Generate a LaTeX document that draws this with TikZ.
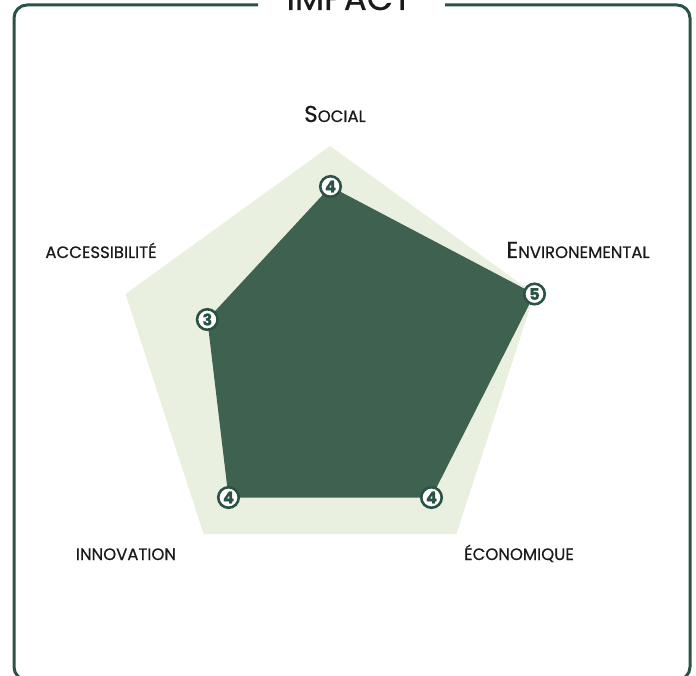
\documentclass[tikz,border=0pt]{standalone}
\usepackage{fontspec}
\setmainfont{Poppins}[FakeBold=0.6]
\newfontfamily\markfont{Poppins}[FakeBold=1.2]
\definecolor{framegreen}{HTML}{2B5345}
\definecolor{darkfill}{HTML}{3F6150}
\definecolor{lightfill}{HTML}{E9F0DF}
\definecolor{textdark}{HTML}{1A1A1A}
\begin{document}
\begin{tikzpicture}[x=1pt,y=-1pt,
  marker/.style={circle,draw=framegreen,line width=2.6pt,fill=white,inner sep=0pt,minimum size=20.5pt,
    font=\fontsize{16}{16}\markfont\bfseries,text=framegreen},
  axislabel/.style={anchor=base,text=textdark,inner sep=0pt,font=\fontsize{16.5}{16.5}\selectfont}]
\useasboundingbox (0,0) rectangle (696,676);
\clip (0,0) rectangle (696,676);
% outer pentagon
\coordinate (o1) at (330,146);
\coordinate (o2) at (534.5,294);
\coordinate (o3) at (456.4,534);
\coordinate (o4) at (203.6,534);
\coordinate (o5) at (125.5,294);
\fill[lightfill] (o1) -- (o2) -- (o3) -- (o4) -- (o5) -- cycle;
% data points
\coordinate (d1) at (330.5,186.5);
\coordinate (d2) at (534.5,294);
\coordinate (d3) at (431.5,497.5);
\coordinate (d4) at (228.5,497.5);
\coordinate (d5) at (207.3,319.5);
\fill[darkfill] (d1) -- (d2) -- (d3) -- (d4) -- (d5) -- cycle;
\node[marker] (m1) at (d1) {4};
\node[marker] (m2) at (d2) {5};
\node[marker] (m3) at (d3) {4};
\node[marker] (m4) at (d4) {4};
\node[marker] (m5) at (d5) {3};
% labels
\node[axislabel] (lsocial) at (335,122) {{\fontsize{23}{23}\selectfont S}OCIAL};
\node[axislabel] (lenv) at (578,258) {{\fontsize{23}{23}\selectfont E}NVIRONEMENTAL};
\node[axislabel] (lacc) at (101,258) {ACCESSIBILITÉ};
\node[axislabel] (linno) at (126,560) {INNOVATION};
\node[axislabel] (leco) at (519,560) {ÉCONOMIQUE};
% title and frame
\node[anchor=base,text=textdark,inner sep=0pt,font=\fontsize{34}{34}\selectfont] (title) at (349,10) {IMPACT};
\coordinate (gl) at (258,5);
\coordinate (gr) at (445,5);
\draw[framegreen,line width=3pt,rounded corners=13pt] (gl) -- (14,5) -- (14,680) -- (690,680) -- (690,5) -- (gr);
\end{tikzpicture}
\end{document}
